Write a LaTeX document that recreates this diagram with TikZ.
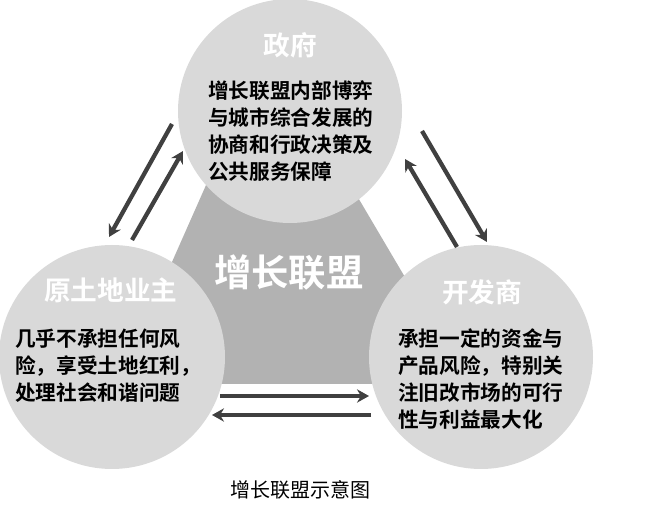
\documentclass[tikz,border=0pt]{standalone}
\usepackage{fontspec}
\usetikzlibrary{arrows.meta}
\setmainfont{Noto Sans CJK SC}[BoldFont={Noto Sans CJK SC Bold}]
\begin{document}
\begin{tikzpicture}[x=0.75pt,y=-0.75pt,
  circ/.style={fill=black!15,draw=none},
  title/.style={text=white,font=\fontsize{20pt}{24pt}\selectfont\bfseries},
  body/.style={align=left,anchor=west,inner sep=0pt,font=\fontsize{15.5pt}{20.2pt}\selectfont\bfseries},
  arr/.style={draw=black!75,line width=3.2pt,-{Stealth[length=9pt,width=10pt]}}]
\useasboundingbox (0,0) rectangle (658,513);
\fill[black!30] (268,45) -- (118,384) -- (468,384) -- cycle;
\fill[circ] (290,111) ellipse [x radius=112,y radius=112];
\fill[circ] (112,357) ellipse [x radius=113,y radius=112];
\fill[circ] (481,357) ellipse [x radius=112,y radius=112];
\node[title] (g) at (290,45) {政府};
\node[text=white,font=\fontsize{28pt}{32pt}\selectfont\bfseries] (core) at (289,272) {增长联盟};
\node[title] (o) at (111,290) {原土地业主};
\node[title] (d) at (482,292) {开发商};
\node[body] (gb) at (208,131) {增长联盟内部博弈\\与城市综合发展的\\协商和行政决策及\\公共服务保障};
\node[body] (ob) at (15,366) {几乎不承担任何风\\险，享受土地红利，\\处理社会和谐问题};
\node[body] (db) at (398,379) {承担一定的资金与\\产品风险，特别关\\注旧改市场的可行\\性与利益最大化};
\node (cap) at (300,490) {\fontsize{15pt}{18pt}\selectfont 增长联盟示意图};
\coordinate (a1) at (172,124); \coordinate (a2) at (109,237);
\coordinate (b1) at (132,240); \coordinate (b2) at (183,151);
\coordinate (c1) at (422,131); \coordinate (c2) at (487,242);
\coordinate (d1) at (457,247); \coordinate (d2) at (405,159);
\coordinate (e1) at (220,396); \coordinate (e2) at (369,396);
\coordinate (f1) at (371,415); \coordinate (f2) at (212,415);
\draw[arr] (a1) -- (a2);
\draw[arr] (b1) -- (b2);
\draw[arr] (c1) -- (c2);
\draw[arr] (d1) -- (d2);
\draw[arr] (e1) -- (e2);
\draw[arr] (f1) -- (f2);
\end{tikzpicture}
\end{document}
